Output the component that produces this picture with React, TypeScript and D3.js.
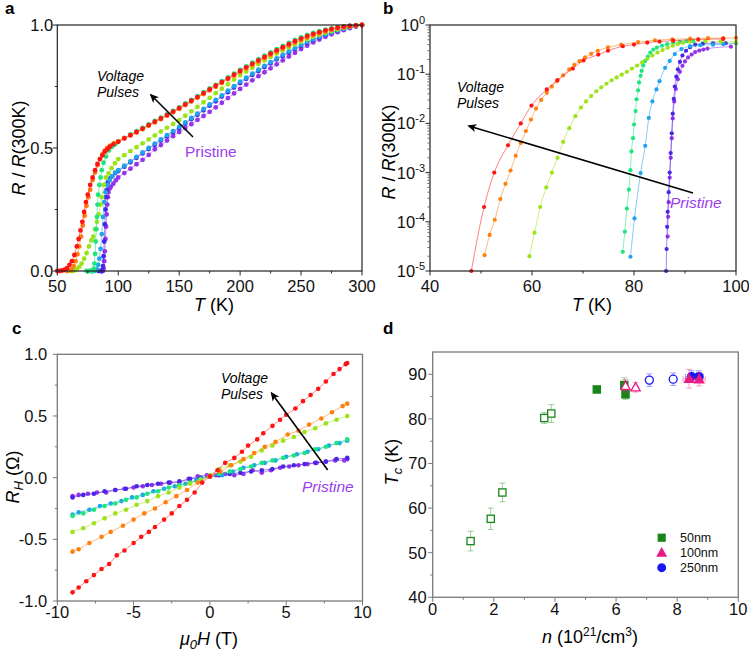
import React from "react";
import * as d3 from "d3";

const FONT = "'Liberation Sans', Arial, Helvetica, sans-serif";
const W = 749;
const H = 651;

// ---------------- Panel a : R/R(300K) vs T ----------------
const tHigh = [100,105,110,115,120,125,130,135,140,145,150,155,160,165,170,175,180,185,190,195,200,205,210,215,220,225,230,235,240,245,250,255,260,265,270,275,280,285,290,295,300];

const tA_red = [50,52,54,56,58,60,62,64,66,67.5,69,70.5,72,73.5,75,77,79,81,83,85,87,89,91,93,96];
const rA_red = [0,0,0.002,0.005,0.012,0.025,0.04,0.065,0.1,0.13,0.165,0.2,0.24,0.28,0.31,0.35,0.38,0.41,0.435,0.455,0.47,0.485,0.495,0.505,0.515];
const rA_redHigh = [.525,.539,.552,.565,.579,.593,.607,.620,.634,.648,.662,.677,.692,.707,.723,.738,.753,.768,.783,.798,.813,.828,.842,.856,.870,.884,.897,.910,.922,.934,.945,.955,.964,.971,.978,.984,.989,.993,.996,.998,1.0];

const tA_orange = [58,60,62,63.5,65,66.5,68,69.5,71,72.5,74,75.5,77,79,81,83,85,87,89,91,93.5,96.5];
const rA_orange = [0,0.002,0.008,0.02,0.04,0.068,0.1,0.14,0.185,0.225,0.265,0.3,0.33,0.37,0.4,0.43,0.455,0.475,0.49,0.5,0.51,0.52];
const rA_orangeHigh = [.528,.540,.551,.563,.576,.590,.604,.617,.631,.645,.659,.674,.689,.704,.719,.734,.749,.764,.779,.794,.809,.823,.837,.851,.865,.878,.891,.904,.916,.928,.939,.949,.958,.966,.974,.980,.986,.991,.995,.998,1.0];

const tA_yg = [62,64,66,68,70,72,74,76,78,79.5,81,82.5,84,85.5,86.5,88,90,92,94.5,97.3];
const rA_yg = [0,0.002,0.008,0.017,0.03,0.05,0.073,0.1,0.125,0.14,0.17,0.2,0.23,0.27,0.3,0.35,0.38,0.397,0.418,0.438];
const rA_ygHigh = [.455,.471,.487,.503,.519,.535,.551,.567,.582,.598,.613,.631,.649,.667,.686,.704,.723,.741,.759,.778,.796,.811,.826,.841,.856,.870,.884,.897,.910,.921,.932,.942,.952,.960,.968,.975,.982,.988,.993,.997,1.0];

const tA_green = [74,75.5,77,78.5,79.5,80,80.5,81,81.5,82,82.5,83,83.5,84.5,85.5,86.5,88,90,92.5,95,97.5];
const rA_green = [0,0,0,0,0.001,0.01,0.03,0.07,0.12,0.17,0.22,0.27,0.31,0.35,0.38,0.41,0.44,0.465,0.49,0.505,0.515];
const rA_greenHigh = [.527,.541,.555,.568,.582,.596,.610,.623,.637,.651,.665,.681,.696,.711,.727,.742,.757,.772,.787,.802,.817,.832,.847,.861,.875,.889,.902,.915,.927,.939,.950,.960,.968,.975,.981,.986,.990,.994,.997,.999,1.0];

const tA_sky = [78,79.5,81,82.5,83.5,84.5,85.5,86.5,87.5,88.5,89.5,91,93,95,97.5];
const rA_sky = [0,0,0.001,0.006,0.025,0.05,0.09,0.15,0.22,0.28,0.32,0.35,0.37,0.385,0.4];
const rA_skyHigh = [.410,.428,.446,.464,.482,.500,.518,.535,.552,.569,.586,.604,.622,.640,.659,.677,.696,.714,.733,.751,.770,.786,.802,.818,.834,.849,.864,.879,.893,.906,.919,.931,.942,.952,.961,.970,.978,.985,.991,.996,1.0];

const tA_blue = [84,86,86.5,87,87.5,88,88.5,89,89.5,90,90.5,91.5,93,95,97.5];
const rA_blue = [0,0,0.0001,0.002,0.02,0.06,0.12,0.19,0.25,0.3,0.33,0.36,0.375,0.385,0.398];
const rA_blueHigh = [.406,.424,.442,.460,.478,.496,.513,.530,.547,.564,.581,.599,.617,.635,.653,.672,.690,.709,.727,.746,.764,.781,.797,.813,.829,.844,.860,.874,.888,.902,.915,.927,.939,.949,.959,.968,.976,.984,.990,.996,1.0];

const tA_purple = [86,87,87.5,88,88.5,89,89.5,90,90.5,91,91.5,92,93,94,96,98];
const rA_purple = [0,0,0.001,0.01,0.04,0.08,0.13,0.18,0.23,0.27,0.3,0.32,0.335,0.343,0.355,0.368];
const rA_purpleHigh = [.380,.398,.416,.434,.452,.472,.495,.512,.530,.548,.565,.581,.597,.614,.630,.647,.665,.684,.703,.722,.740,.758,.775,.792,.808,.824,.840,.856,.872,.887,.902,.916,.929,.941,.952,.962,.971,.979,.987,.994,1.0];

// ---------------- Panel b : log R/R(300K) vs T ----------------
const tB_red = [48.1,50.6,52.6,55.3,57.8,59.9,62.9,65,68,70.1,73,74.9,77.8,80,82.6,85,87.7,92.6,97.5];
const rB_red = [1e-5,2e-4,1e-3,3.6e-3,1e-2,0.023,0.049,0.076,0.13,0.19,0.25,0.3,0.37,0.4,0.44,0.46,0.48,0.51,0.52];
const tB_orange = [50.7,51.7,52.7,53.8,54.8,55.8,56.8,57.8,58.8,59.8,60.8,61.8,62.9,63.9,64.9,66.1,67.3,68.3,69.3,70.4,71.6,72.9,74.9,77.5,80.8,84.1,87.5,91,94.5,97.5,100];
const rB_orange = [2.1e-5,5.4e-5,1.1e-4,2.9e-4,5.9e-4,1.1e-3,2.2e-3,4e-3,7e-3,0.012,0.02,0.03,0.042,0.056,0.072,0.095,0.125,0.155,0.185,0.22,0.26,0.3,0.35,0.4,0.45,0.49,0.51,0.53,0.54,0.54,0.55];
const tB_yg = [59.5,60.5,61.6,62.8,63.9,65,66.1,67.3,68.5,69.6,70.6,71.6,72.6,73.6,74.6,75.6,76.6,77.6,78.6,79.6,80.6,81.6,82.6,83.6,84.6,85.6,86.6,87.6,88.6,89.6,91,94,97,100];
const rB_yg = [2e-5,6e-5,2e-4,5e-4,1e-3,2e-3,4.2e-3,8e-3,0.014,0.021,0.028,0.036,0.045,0.054,0.064,0.075,0.086,0.098,0.112,0.13,0.15,0.175,0.205,0.24,0.275,0.31,0.345,0.38,0.41,0.435,0.46,0.47,0.46,0.447];
const tB_green = [77.8,78.2,78.6,79,79.3,79.5,79.8,80,80.3,80.5,80.8,81,81.3,81.5,81.8,82.2,82.7,83.2,83.8,84.5,85.5,86.5,87.7,89,90.3,91.6];
const rB_green = [2.45e-5,6.3e-5,1.86e-4,4.5e-4,1.12e-3,2.7e-3,5e-3,9.5e-3,0.0178,0.031,0.047,0.068,0.093,0.117,0.151,0.186,0.229,0.275,0.316,0.347,0.38,0.407,0.437,0.457,0.468,0.468];
const tB_sky = [79.3,80.1,81.3,82.2,82.9,83.6,84.4,85,86.1,87,88,89.3,91,93,95.5,97.5,100];
const rB_sky = [1.95e-5,1.17e-4,9.8e-4,3.5e-3,0.0129,0.028,0.049,0.072,0.135,0.186,0.257,0.324,0.372,0.389,0.398,0.407,0.427];
const tB_blue = [86.3,86.4,86.5,86.6,86.8,87,87.2,87.4,87.6,87.8,88,88.3,88.6,89,89.5,90.2,91,92,93.5,95.5,98];
const rB_blue = [1e-5,2.8e-5,7.9e-5,1.6e-4,4e-4,1e-3,2.5e-3,6.3e-3,0.0158,0.0316,0.056,0.089,0.126,0.178,0.24,0.3,0.355,0.398,0.417,0.427,0.427];
const tB_purple = [86.6,86.7,86.8,87,87.2,87.4,87.6,87.9,88.2,88.6,89,89.5,90,90.6,91.3,92,92.8,93.6,94.4,99];
const rB_purple = [5e-5,1.26e-4,2.5e-4,7.9e-4,2e-3,5e-3,0.0126,0.028,0.05,0.079,0.112,0.148,0.182,0.219,0.251,0.282,0.302,0.316,0.331,0.363];

// ---------------- Panel c : Hall resistance ----------------
const hC_red = [-9,-8.6,-8.1,-7.6,-7.1,-6.6,-6.1,-5.6,-5,-4.5,-4,-3.6,-3,-2.5,-2,-1.5,-1,-0.5,0,0.5,1,1.6,2.1,2.5,3.1,3.5,4.1,4.6,5,5.6,6.1,6.6,7.1,7.6,8.1,8.5,8.9,9];
const rC_red = [-0.93,-0.89,-0.84,-0.79,-0.74,-0.70,-0.63,-0.59,-0.53,-0.48,-0.44,-0.40,-0.34,-0.29,-0.23,-0.18,-0.12,-0.04,0.01,0.06,0.12,0.16,0.21,0.26,0.31,0.36,0.42,0.47,0.51,0.56,0.62,0.67,0.72,0.78,0.84,0.88,0.92,0.93];
const hC_orange = [-9,-8.6,-7.9,-7.1,-6.5,-5.7,-5,-4.3,-3.6,-2.9,-2.2,-1.5,-0.8,0,0.7,1.4,2.2,2.9,3.6,4.3,5.1,5.8,6.5,7.3,8,8.7,9];
const rC_orange = [-0.6,-0.58,-0.53,-0.48,-0.44,-0.39,-0.34,-0.29,-0.25,-0.2,-0.15,-0.1,-0.04,0.01,0.05,0.1,0.15,0.2,0.25,0.29,0.35,0.38,0.43,0.48,0.53,0.58,0.6];
const hC_yg = [-9,-8.3,-7.6,-6.9,-6.2,-5.5,-4.8,-4.1,-3.4,-2.7,-2,-1.3,-0.6,0,0.6,1.3,2,2.7,3.4,4.1,4.8,5.5,6.2,6.9,7.6,8.3,9];
const rC_yg = [-0.44,-0.41,-0.37,-0.33,-0.29,-0.26,-0.22,-0.19,-0.15,-0.12,-0.08,-0.05,-0.02,0.02,0.07,0.1,0.13,0.17,0.22,0.26,0.3,0.33,0.37,0.4,0.44,0.47,0.5];
const hC_green = [-9,-8.3,-7.6,-6.9,-6.2,-5.5,-4.8,-4.1,-3.4,-2.7,-2,-1.3,-0.6,0,0.6,1.3,2,2.7,3.4,4.1,4.8,5.5,6.2,6.9,7.6,8.3,9];
const rC_green = [-0.31,-0.29,-0.26,-0.23,-0.21,-0.18,-0.16,-0.13,-0.11,-0.08,-0.06,-0.04,-0.01,0.01,0.03,0.05,0.07,0.09,0.12,0.14,0.16,0.18,0.2,0.23,0.25,0.28,0.31];
const hC_sky = [-9,-8.6,-7.9,-7.2,-6.5,-5.8,-5.1,-4.4,-3.7,-3,-2.3,-1.6,-0.9,0,0.8,1.5,2.2,2.9,3.6,4.3,5,5.7,6.4,7.1,7.8,8.5,9];
const rC_sky = [-0.3,-0.28,-0.26,-0.23,-0.21,-0.19,-0.16,-0.14,-0.11,-0.09,-0.07,-0.05,-0.02,0.01,0.02,0.05,0.08,0.1,0.12,0.14,0.17,0.19,0.21,0.23,0.26,0.28,0.3];
const hC_blue = [-9,-8.3,-7.6,-6.9,-6.2,-5.5,-4.8,-4.1,-3.4,-2.7,-2,-1.3,-0.6,0,0.6,1.3,2,2.7,3.4,4.1,4.8,5.5,6.2,6.9,7.6,8.3,9];
const rC_blue = [-0.16,-0.14,-0.13,-0.11,-0.1,-0.09,-0.07,-0.06,-0.05,-0.04,-0.03,-0.01,0,0.01,0.02,0.03,0.04,0.05,0.06,0.07,0.09,0.1,0.11,0.12,0.13,0.15,0.16];
const hC_purple = [-9,-8.6,-8,-7.4,-6.8,-6.2,-5.6,-5,-4.4,-3.8,-3.2,-2.6,-2,-1.4,-0.8,-0.2,0.4,1,1.6,2.2,2.8,3.4,4,4.6,5.2,5.8,6.4,7,7.6,8.2,8.8,9];
const rC_purple = [-0.15,-0.14,-0.13,-0.12,-0.12,-0.1,-0.09,-0.08,-0.07,-0.06,-0.05,-0.04,-0.04,-0.01,0.01,0.02,0.02,0.03,0.02,0.03,0.06,0.04,0.06,0.08,0.09,0.1,0.11,0.12,0.13,0.14,0.14,0.15];

// ---------------- Panel d : Tc vs n ----------------
const nD_gOpen = [1.24,1.9,2.28,3.65,3.88];
const tcD_gOpen = [52.6,57.6,63.5,80.2,81.2];
const errD_gOpen = [2.2,2.4,2.1,1.2,2.0];
const nD_gFill = [5.37,6.27,6.31];
const tcD_gFill = [86.6,87.6,85.5];
const errD_gFill = [0.5,1.6,1.1];
const nD_pOpen = [6.31,6.64];
const tcD_pOpen = [87.4,87.1];
const errD_pOpen = [1.4,1.1];
const nD_pFill = [8.39,8.72];
const tcD_pFill = [89.0,88.9];
const errD_pFill = [2.1,1.5];
const nErrD_pFill = [0.2,0.2];
const nD_bOpen = [7.09,7.87];
const tcD_bOpen = [88.7,88.9];
const errD_bOpen = [1.4,1.4];
const nD_bFill = [8.47,8.71];
const tcD_bFill = [89.5,89.5];
const errD_bFill = [1.3,1.3];
const nErrD_bFill = [0.2,0.15];
const legendD = ["50nm", "100nm", "250nm"];

// ---------------- styles ----------------
const COL = {
  red: "#ff1414",
  orange: "#ff8010",
  yg: "#9ee21c",
  green: "#1ee67e",
  sky: "#1ea4ec",
  blue: "#4826e6",
  purple: "#9634ea",
};
const PRISTINE = "#9b3df0";
const D_GREEN = "#1a861a";
const D_PINK = "#ea1a84";
const D_BLUE = "#1717f5";

const zip = (xs: number[], ys: number[]) => xs.map((x, i) => [x, ys[i]] as [number, number]);

function BottomAxis({ sx, y, majors, minors, fmt, color, gap, fs = 16.5 }: any) {
  return (
    <g>
      {majors.map((v: number) => (
        <line key={"M" + v} x1={sx(v)} x2={sx(v)} y1={y} y2={y + 4.5} stroke={color} strokeWidth={1} />
      ))}
      {minors.map((v: number) => (
        <line key={"m" + v} x1={sx(v)} x2={sx(v)} y1={y} y2={y + 2.5} stroke={color} strokeWidth={1} />
      ))}
      {majors.map((v: number) => (
        <text key={"t" + v} x={sx(v)} y={y + gap} textAnchor="middle" fontSize={fs} fill="#111">
          {fmt(v)}
        </text>
      ))}
    </g>
  );
}

function LeftAxis({ sy, x, majors, minors, fmt, color, gap, fs = 16.5 }: any) {
  return (
    <g>
      {majors.map((v: number) => (
        <line key={"M" + v} x1={x - 4.5} x2={x} y1={sy(v)} y2={sy(v)} stroke={color} strokeWidth={1} />
      ))}
      {minors.map((v: number) => (
        <line key={"m" + v} x1={x - 2.5} x2={x} y1={sy(v)} y2={sy(v)} stroke={color} strokeWidth={1} />
      ))}
      {majors.map((v: number) => (
        <text key={"t" + v} x={x - gap} y={sy(v) + fs * 0.36} textAnchor="end" fontSize={fs} fill="#111">
          {fmt(v)}
        </text>
      ))}
    </g>
  );
}

function Arrow({ x1, y1, x2, y2, id }: any) {
  return (
    <g>
      <defs>
        <marker id={id} viewBox="0 0 10 10" refX="8" refY="5" markerWidth="10" markerHeight="9" markerUnits="userSpaceOnUse" orient="auto">
          <path d="M0,0.5 L10,5 L0,9.5 L2.5,5 z" fill="#000" />
        </marker>
      </defs>
      <line x1={x1} y1={y1} x2={x2} y2={y2} stroke="#000" strokeWidth={1.6} markerEnd={`url(#${id})`} />
    </g>
  );
}

function Series({ pts, sx, sy, color, r, curve, clip }: any) {
  const line = d3
    .line<[number, number]>()
    .x((d) => sx(d[0]))
    .y((d) => sy(d[1]))
    .curve(curve || d3.curveLinear);
  return (
    <g>
      <path d={line(pts) || ""} fill="none" stroke={color} strokeWidth={0.9} opacity={0.6} clipPath={clip} />
      {pts.map((d: [number, number], i: number) => (
        <circle key={i} cx={sx(d[0])} cy={sy(d[1])} r={r} fill={color} />
      ))}
    </g>
  );
}

function PanelA() {
  const sx = d3.scaleLinear().domain([50, 300]).range([57.3, 362]);
  const sy = d3.scaleLinear().domain([0, 1]).range([271, 25]);
  const series = [
    { c: COL.purple, p: zip(tA_purple, rA_purple).concat(zip(tHigh, rA_purpleHigh)) },
    { c: COL.blue, p: zip(tA_blue, rA_blue).concat(zip(tHigh, rA_blueHigh)) },
    { c: COL.sky, p: zip(tA_sky, rA_sky).concat(zip(tHigh, rA_skyHigh)) },
    { c: COL.yg, p: zip(tA_yg, rA_yg).concat(zip(tHigh, rA_ygHigh)) },
    { c: COL.green, p: zip(tA_green, rA_green).concat(zip(tHigh, rA_greenHigh)) },
    { c: COL.orange, p: zip(tA_orange, rA_orange).concat(zip(tHigh, rA_orangeHigh)) },
    { c: COL.red, p: zip(tA_red, rA_red).concat(zip(tHigh, rA_redHigh)) },
  ];
  return (
    <g>
      <text x={5} y={14} fontSize={17} fontWeight="bold">a</text>
      {series.map((s, i) => (
        <Series key={i} pts={s.p} sx={sx} sy={sy} color={s.c} r={2.4} />
      ))}
      <rect x={57.3} y={25} width={362 - 57.3} height={271 - 25} fill="none" stroke="#222" strokeWidth={1.2} />
      <BottomAxis sx={sx} y={271} majors={[50, 100, 150, 200, 250, 300]} minors={[75, 125, 175, 225, 275]} fmt={(v: number) => String(v)} color="#222" gap={21} />
      <LeftAxis sy={sy} x={57.3} majors={[0, 0.5, 1]} minors={[0.25, 0.75]} fmt={(v: number) => v.toFixed(1)} color="#222" gap={4} />
      <text x={214} y={311} textAnchor="middle" fontSize={18}>
        <tspan fontStyle="italic">T</tspan>{"\u00a0(K)"}
      </text>
      <text transform="translate(25,148) rotate(-90)" textAnchor="middle" fontSize={18}>
        <tspan fontStyle="italic">R</tspan>{"\u00a0/\u00a0"}<tspan fontStyle="italic">R</tspan>(300K)
      </text>
      <text x={97} y={81} fontSize={14} fontStyle="italic">Voltage</text>
      <text x={97} y={97} fontSize={14} fontStyle="italic">Pulses</text>
      <Arrow x1={193} y1={137} x2={151} y2={95} id="arrA" />
      <text x={185} y={157} fontSize={15.5} fill={PRISTINE}>Pristine</text>
    </g>
  );
}

function PanelB() {
  const sx = d3.scaleLinear().domain([40, 100]).range([430, 736]);
  const sy = d3.scaleLog().domain([1e-5, 1]).range([271, 25]);
  const series = [
    { c: COL.purple, p: zip(tB_purple, rB_purple) },
    { c: COL.blue, p: zip(tB_blue, rB_blue) },
    { c: COL.sky, p: zip(tB_sky, rB_sky) },
    { c: COL.green, p: zip(tB_green, rB_green) },
    { c: COL.yg, p: zip(tB_yg, rB_yg) },
    { c: COL.orange, p: zip(tB_orange, rB_orange) },
    { c: COL.red, p: zip(tB_red, rB_red) },
  ];
  const majors = [1e-5, 1e-4, 1e-3, 1e-2, 1e-1, 1];
  const minors: number[] = [];
  [-5, -4, -3, -2, -1].forEach((e) => [2, 3, 4, 5, 6, 7, 8, 9].forEach((k) => minors.push(k * Math.pow(10, e))));
  return (
    <g>
      <defs>
        <clipPath id="clipB">
          <rect x={430} y={25} width={306} height={246} />
        </clipPath>
      </defs>
      <text x={383} y={14} fontSize={17} fontWeight="bold">b</text>
      {series.map((s, i) => (
        <Series key={i} pts={s.p} sx={sx} sy={sy} color={s.c} r={2.1} curve={d3.curveMonotoneX} clip="url(#clipB)" />
      ))}
      <rect x={430} y={25} width={306} height={246} fill="none" stroke="#222" strokeWidth={1.2} />
      <BottomAxis sx={sx} y={271} majors={[40, 60, 80, 100]} minors={[50, 70, 90]} fmt={(v: number) => String(v)} color="#222" gap={21} />
      {minors.map((v) => (
        <line key={"mb" + v} x1={427.5} x2={430} y1={sy(v)} y2={sy(v)} stroke="#666" strokeWidth={1} />
      ))}
      {majors.map((v) => {
        const e = Math.round(Math.log10(v));
        return (
          <g key={"Mb" + v}>
            <line x1={425.5} x2={430} y1={sy(v)} y2={sy(v)} stroke="#222" strokeWidth={1} />
            <text x={425} y={sy(v) + 6} textAnchor="end" fontSize={16.5} fill="#111">
              10<tspan fontSize={11} dy={-7}>{e === 0 ? "0" : String(e)}</tspan>
            </text>
          </g>
        );
      })}
      <text x={592} y={311} textAnchor="middle" fontSize={18}>
        <tspan fontStyle="italic">T</tspan>{"\u00a0(K)"}
      </text>
      <text transform="translate(395,152) rotate(-90)" textAnchor="middle" fontSize={18}>
        <tspan fontStyle="italic">R</tspan>{"\u00a0/\u00a0"}<tspan fontStyle="italic">R</tspan>(300K)
      </text>
      <text x={457} y={92} fontSize={14} fontStyle="italic">Voltage</text>
      <text x={457} y={108} fontSize={14} fontStyle="italic">Pulses</text>
      <Arrow x1={693} y1={193} x2={469} y2={126} id="arrB" />
      <text x={670} y={208} fontSize={15.5} fontStyle="italic" fill={PRISTINE}>Pristine</text>
    </g>
  );
}

function PanelC() {
  const sx = d3.scaleLinear().domain([-10, 10]).range([57.3, 362.5]);
  const sy = d3.scaleLinear().domain([-1, 1]).range([601, 354.3]);
  const series = [
    { c: COL.purple, p: zip(hC_purple, rC_purple) },
    { c: COL.blue, p: zip(hC_blue, rC_blue) },
    { c: COL.sky, p: zip(hC_sky, rC_sky) },
    { c: COL.green, p: zip(hC_green, rC_green) },
    { c: COL.yg, p: zip(hC_yg, rC_yg) },
    { c: COL.orange, p: zip(hC_orange, rC_orange) },
    { c: COL.red, p: zip(hC_red, rC_red) },
  ];
  const gray = "#7a7a7a";
  return (
    <g>
      <text x={12} y={334} fontSize={17} fontWeight="bold">c</text>
      {series.map((s, i) => (
        <Series key={i} pts={s.p} sx={sx} sy={sy} color={s.c} r={2.3} />
      ))}
      <rect x={57.3} y={354.3} width={362.5 - 57.3} height={601 - 354.3} fill="none" stroke={gray} strokeWidth={1.3} />
      <BottomAxis sx={sx} y={601} majors={[-10, -5, 0, 5, 10]} minors={[-7.5, -2.5, 2.5, 7.5]} fmt={(v: number) => String(v)} color={gray} gap={17} />
      <LeftAxis sy={sy} x={57.3} majors={[-1, -0.5, 0, 0.5, 1]} minors={[-0.75, -0.25, 0.25, 0.75]} fmt={(v: number) => v.toFixed(1)} color={gray} gap={10} />
      <text x={209} y={645} textAnchor="middle" fontSize={18}>
        <tspan fontStyle="italic">μ</tspan>
        <tspan fontStyle="italic" fontSize={13} dy={4}>0</tspan>
        <tspan fontStyle="italic" dy={-4}>H</tspan>{"\u00a0(T)"}
      </text>
      <text transform="translate(19,477) rotate(-90)" textAnchor="middle" fontSize={18}>
        <tspan fontStyle="italic">R</tspan>
        <tspan fontStyle="italic" fontSize={13} dy={4}>H</tspan>
        <tspan dy={-4}>{"\u00a0(Ω)"}</tspan>
      </text>
      <text x={221} y={383} fontSize={14} fontStyle="italic">Voltage</text>
      <text x={221} y={399} fontSize={14} fontStyle="italic">Pulses</text>
      <Arrow x1={327.7} y1={470} x2={271.7} y2={393.3} id="arrC" />
      <text x={302} y={492} fontSize={15.5} fontStyle="italic" fill={PRISTINE}>Pristine</text>
    </g>
  );
}

function Marker({ kind, cx, cy, color, open, s = 1 }: any) {
  const fill = open ? "#fff" : color;
  if (kind === "sq") {
    const h = 3.6 * s;
    return <rect x={cx - h} y={cy - h} width={2 * h} height={2 * h} fill={fill} stroke={color} strokeWidth={1.3} />;
  }
  if (kind === "tri") {
    const h = 4.6 * s;
    return (
      <path d={`M${cx},${cy - h} L${cx + h},${cy + h * 0.78} L${cx - h},${cy + h * 0.78} Z`} fill={fill} stroke={color} strokeWidth={1.3} />
    );
  }
  return <circle cx={cx} cy={cy} r={4 * s} fill={fill} stroke={color} strokeWidth={1.3} />;
}

function PanelD() {
  const sx = d3.scaleLinear().domain([0, 10]).range([432.7, 738.3]);
  const sy = d3.scaleLinear().domain([40, 95]).range([597.3, 352]);
  const gray = "#7a7a7a";
  const groups = [
    { kind: "sq", color: D_GREEN, open: true, n: nD_gOpen, tc: tcD_gOpen, err: errD_gOpen, nErr: null },
    { kind: "sq", color: D_GREEN, open: false, n: nD_gFill, tc: tcD_gFill, err: errD_gFill, nErr: null },
    { kind: "circ", color: D_BLUE, open: true, n: nD_bOpen, tc: tcD_bOpen, err: errD_bOpen, nErr: null },
    { kind: "circ", color: D_BLUE, open: false, n: nD_bFill, tc: tcD_bFill, err: errD_bFill, nErr: nErrD_bFill },
    { kind: "tri", color: D_PINK, open: true, n: nD_pOpen, tc: tcD_pOpen, err: errD_pOpen, nErr: null },
    { kind: "tri", color: D_PINK, open: false, n: nD_pFill, tc: tcD_pFill, err: errD_pFill, nErr: nErrD_pFill },
  ];
  const legend = [
    { kind: "sq", color: D_GREEN, label: legendD[0] },
    { kind: "tri", color: D_PINK, label: legendD[1] },
    { kind: "circ", color: D_BLUE, label: legendD[2] },
  ];
  return (
    <g>
      <text x={383} y={334} fontSize={17} fontWeight="bold">d</text>
      {groups.map((g, gi) => (
        <g key={gi}>
          {g.n.map((n, i) => {
            const cx = sx(n);
            const cy = sy(g.tc[i]);
            const y1 = sy(g.tc[i] - g.err[i]);
            const y2 = sy(g.tc[i] + g.err[i]);
            return (
              <g key={i}>
                <g stroke={g.color} strokeOpacity={0.4} strokeWidth={1}>
                  <line x1={cx} x2={cx} y1={y1} y2={y2} />
                  <line x1={cx - 3} x2={cx + 3} y1={y1} y2={y1} />
                  <line x1={cx - 3} x2={cx + 3} y1={y2} y2={y2} />
                  {g.nErr ? (
                    <g>
                      <line x1={sx(n - g.nErr[i])} x2={sx(n + g.nErr[i])} y1={cy} y2={cy} />
                      <line x1={sx(n - g.nErr[i])} x2={sx(n - g.nErr[i])} y1={cy - 3} y2={cy + 3} />
                      <line x1={sx(n + g.nErr[i])} x2={sx(n + g.nErr[i])} y1={cy - 3} y2={cy + 3} />
                    </g>
                  ) : null}
                </g>
                <Marker kind={g.kind} cx={cx} cy={cy} color={g.color} open={g.open} />
              </g>
            );
          })}
        </g>
      ))}
      <rect x={432.7} y={352} width={738.3 - 432.7} height={597.3 - 352} fill="none" stroke={gray} strokeWidth={1.3} />
      <BottomAxis sx={sx} y={597.3} majors={[0, 2, 4, 6, 8, 10]} minors={[1, 3, 5, 7, 9]} fmt={(v: number) => String(v)} color={gray} gap={18} />
      <LeftAxis sy={sy} x={432.7} majors={[40, 50, 60, 70, 80, 90]} minors={[45, 55, 65, 75, 85]} fmt={(v: number) => String(v)} color={gray} gap={6} />
      <text x={590} y={643} textAnchor="middle" fontSize={18}>
        <tspan fontStyle="italic">n</tspan>{"\u00a0(10"}<tspan fontSize={12} dy={-7}>21</tspan>
        <tspan dy={7}>/cm</tspan>
        <tspan fontSize={12} dy={-7}>3</tspan>
        <tspan dy={7}>)</tspan>
      </text>
      <text transform="translate(398,462) rotate(-90)" textAnchor="middle" fontSize={18}>
        <tspan fontStyle="italic">T</tspan>
        <tspan fontStyle="italic" fontSize={13} dy={4}>c</tspan>
        <tspan dy={-4}>{"\u00a0(K)"}</tspan>
      </text>
      {legend.map((l, i) => (
        <g key={l.label}>
          <Marker kind={l.kind} cx={661.7} cy={537.7 + i * 15} color={l.color} open={false} s={0.95} />
          <text x={680} y={537.7 + i * 15 + 4.5} fontSize={12.5} fill="#111">{l.label}</text>
        </g>
      ))}
    </g>
  );
}

export default function App() {
  return (
    <svg
      width={W}
      height={H}
      viewBox={`0 0 ${W} ${H}`}
      style={{ position: "absolute", left: 0, top: 0, background: "#fff" }}
      fontFamily={FONT}
    >
      <rect x={0} y={0} width={W} height={H} fill="#fff" />
      <PanelA />
      <PanelB />
      <PanelC />
      <PanelD />
    </svg>
  );
}
